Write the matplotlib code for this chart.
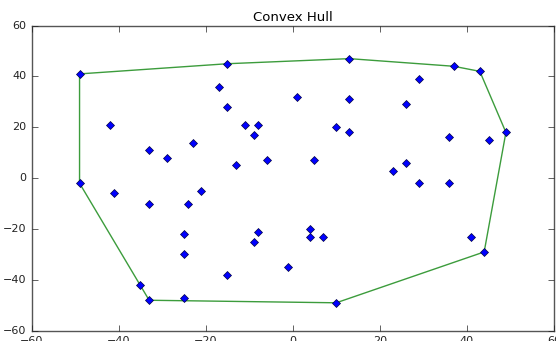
import matplotlib
matplotlib.use('Agg')
from matplotlib import pyplot as plt

# scatter points
xs = [-49, -15, 13, 37, 43, 49, 44, 10, -33, -35, -49,
      -42, -33, -29, -23, -17, -15, -11, -8, -9, -13, -6,
      1, 10, 13, 13, 29, 26, 36, 45, 5, 26, 23, 29, 36,
      -41, -33, -24, -21, -25, -25, -15, -8, -9, 4, 4, 7,
      -1, 41, -25]
ys = [41, 45, 47, 44, 42, 18, -29, -49, -48, -42, -2,
      21, 11, 8, 14, 36, 28, 21, 21, 17, 5, 7,
      32, 20, 31, 18, 39, 29, 16, 15, 7, 6, 3, -2, -2,
      -6, -10, -10, -5, -22, -30, -38, -21, -25, -20, -23, -23,
      -35, -23, -47]


def cross(o, a, b):
    return (a[0] - o[0]) * (b[1] - o[1]) - (a[1] - o[1]) * (b[0] - o[0])


def convex_hull(pts):
    # monotone chain
    pts = sorted(set(pts))
    lower = []
    for p in pts:
        while len(lower) >= 2 and cross(lower[-2], lower[-1], p) <= 0:
            lower.pop()
        lower.append(p)
    upper = []
    for p in reversed(pts):
        while len(upper) >= 2 and cross(upper[-2], upper[-1], p) <= 0:
            upper.pop()
        upper.append(p)
    return lower[:-1] + upper[:-1]


hull = convex_hull(list(zip(xs, ys)))
hull.append(hull[0])
hx = [p[0] for p in hull]
hy = [p[1] for p in hull]

plt.style.use('classic')
plt.rcParams['font.family'] = ['DejaVu Sans']

fig = plt.figure(figsize=(5.56, 3.41), dpi=100, facecolor='white')
ax = fig.add_axes([0.057, 0.030, 0.939, 0.895])
ax.plot(hx, hy, '-', color='#3c9c3c', lw=1.0, zorder=2)
ax.plot(xs, ys, 'D', color='#0000ff', mec='#000044', mew=0.5, ms=4.5, zorder=3)
ax.set_xlim(-60, 60)
ax.set_ylim(-60, 60)
ax.set_xticks(range(-60, 61, 20))
ax.set_yticks(range(-60, 61, 20))
ax.tick_params(labelsize=8, colors='#222222')
for s in ax.spines.values():
    s.set_color('#555555')
ax.set_title('Convex Hull', fontsize=9.5, pad=3)

fig.savefig('out.png', dpi=100, facecolor='white')
